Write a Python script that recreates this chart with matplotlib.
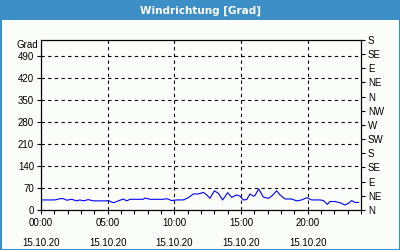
import matplotlib
matplotlib.use("Agg")
import matplotlib.pyplot as plt
from matplotlib.patches import Rectangle

# Data: time of day in hours, wind direction in degrees
hours = [0.0, 1.05, 1.43, 1.675, 1.925, 2.3, 2.675, 2.925, 3.175, 3.55, 3.925, 4.925,
         5.05, 5.425, 5.8, 6.175, 6.425, 6.675, 7.175, 7.675, 7.8, 8.175, 9.175, 9.425,
         9.8, 10.175, 10.675, 11.05, 11.425, 11.8, 12.175, 12.425, 12.675, 13.0, 13.3,
         13.625, 14.0, 14.3, 14.675, 14.925, 15.175, 15.425, 15.675, 15.925, 16.05,
         16.325, 16.675, 17.05, 17.3, 17.675, 17.925, 18.3, 18.8, 19.175, 19.55, 19.925,
         20.3, 20.925, 21.175, 21.475, 21.675, 22.05, 22.425, 22.8, 23.05, 23.3, 23.55, 23.8]
degrees = [32, 32, 36, 36, 31, 34, 29, 32, 29, 33, 29, 29,
           30, 23, 29, 35, 29, 34, 34, 34, 38, 34, 34, 36,
           30, 32, 32, 39, 51, 51, 56, 48, 37, 61, 53,
           32, 55, 40, 48, 44, 32, 33, 51, 44, 46,
           67, 41, 37, 44, 61, 48, 35, 35, 29, 32, 39,
           32, 32, 30, 18, 27, 27, 23, 16, 21, 30, 24, 24]

left_ticks = [0, 70, 140, 210, 280, 350, 420, 490]
right_ticks = [0, 45, 90, 135, 180, 225, 270, 315, 360, 405, 450, 495, 540]
right_labels = ["N", "NE", "E", "SE", "S", "SW", "W", "NW", "N", "NE", "E", "SE", "S"]
x_major = [0, 5, 10, 15, 20]
x_labels = ["00:00\n15.10.20", "05:00\n15.10.20", "10:00\n15.10.20",
            "15:00\n15.10.20", "20:00\n15.10.20"]
title = "Windrichtung [Grad]"

blue = "#3b8fc6"
bg = "#fbfdfb"
font = "Liberation Sans"

fig = plt.figure(figsize=(4, 2.5), dpi=100, facecolor=bg)
# title bar and frame
fig.patches.append(Rectangle((0, 1 - 20 / 250), 1, 20 / 250, transform=fig.transFigure,
                             facecolor=blue, edgecolor="none", zorder=0))
fig.patches.append(Rectangle((0.5 / 400, 0.5 / 250), 399 / 400, 249 / 250, transform=fig.transFigure,
                             facecolor="none", edgecolor=blue, linewidth=1.5, zorder=1))
fig.text(0.5, 1 - 11 / 250, title, color="white", ha="center", va="center",
         fontsize=7.5, fontweight="bold", family="DejaVu Sans")

ax = fig.add_axes([41 / 400, 1 - 210 / 250, 320 / 400, 170 / 250])
ax.set_facecolor(bg)
ax.plot(hours, degrees, color="#0000ff", linewidth=0.8)
ax.set_xlim(0, 24)
ax.set_ylim(0, 540)

ax.set_yticks(left_ticks)
ax.set_yticklabels([str(t) for t in left_ticks], fontsize=7, family=font)
ax.set_xticks(x_major)
ax.set_xticklabels(x_labels, fontsize=7, family=font, linespacing=2.2)
ax.set_xticks(range(0, 25), minor=True)
ax.tick_params(axis="x", which="both", length=3, width=0.8, pad=3)
ax.tick_params(axis="y", length=3, width=0.8, pad=2)

ax.grid(True, which="major", color="black", linestyle=(0, (3, 3)), linewidth=0.8)
for s in ax.spines.values():
    s.set_linewidth(0.8)

ax2 = ax.twinx()
ax2.set_ylim(0, 540)
ax2.set_yticks(right_ticks)
ax2.set_yticklabels(right_labels, fontsize=7, family=font)
ax2.tick_params(axis="y", length=3, width=0.8, pad=2)

fig.text(38 / 400, 1 - 45 / 250, "Grad", ha="right", va="center", fontsize=7, family=font)

fig.savefig("out.png", dpi=100, facecolor=bg)
